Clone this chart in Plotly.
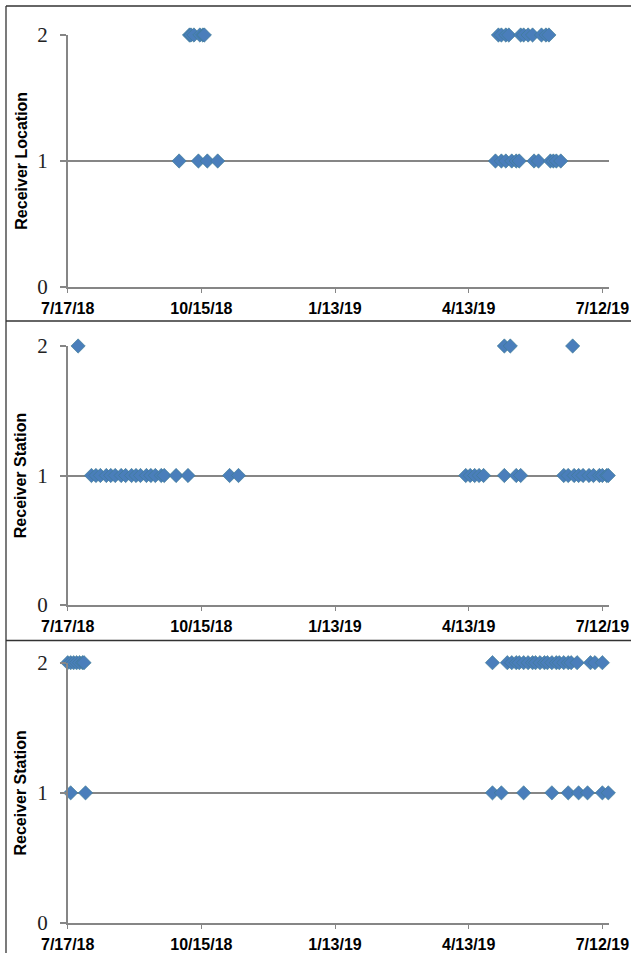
import plotly.graph_objects as go

# ---------------- data ----------------
tick_dates = ["2018-07-17", "2018-10-15", "2019-01-13", "2019-04-13", "2019-07-12"]
tick_labels = ["7/17/18", "10/15/18", "1/13/19", "4/13/19", "7/12/19"]
y_ticks = [0, 1, 2]
y_tick_labels = ["0", "1", "2"]

p1_dates = ["2018-10-07", "2018-10-08", "2018-10-10", "2018-10-14", "2018-10-16", "2018-10-17",
            "2019-05-03", "2019-05-05", "2019-05-08", "2019-05-10", "2019-05-18", "2019-05-20",
            "2019-05-23", "2019-05-26", "2019-06-01", "2019-06-04", "2019-06-06",
            "2018-09-30", "2018-10-13", "2018-10-19", "2018-10-26",
            "2019-05-01", "2019-05-05", "2019-05-08", "2019-05-12", "2019-05-15", "2019-05-17",
            "2019-05-27", "2019-05-30", "2019-06-07", "2019-06-09", "2019-06-11", "2019-06-14"]
p1_values = [2, 2, 2, 2, 2, 2,
             2, 2, 2, 2, 2, 2,
             2, 2, 2, 2, 2,
             1, 1, 1, 1,
             1, 1, 1, 1, 1, 1,
             1, 1, 1, 1, 1, 1]

p2_dates = ["2018-07-24", "2019-05-07", "2019-05-11", "2019-06-22",
            "2018-08-02", "2018-08-05", "2018-08-08", "2018-08-12", "2018-08-15", "2018-08-18",
            "2018-08-22", "2018-08-25", "2018-08-29", "2018-09-01", "2018-09-04", "2018-09-08",
            "2018-09-11", "2018-09-14", "2018-09-18", "2018-09-20", "2018-09-28", "2018-10-06",
            "2018-11-03", "2018-11-09",
            "2019-04-11", "2019-04-14", "2019-04-17", "2019-04-20", "2019-04-23",
            "2019-05-07", "2019-05-15", "2019-05-18",
            "2019-06-16", "2019-06-19", "2019-06-23", "2019-06-26", "2019-06-29", "2019-07-03",
            "2019-07-06", "2019-07-10", "2019-07-12", "2019-07-15", "2019-07-16"]
p2_values = [2, 2, 2, 2,
             1, 1, 1, 1, 1, 1,
             1, 1, 1, 1, 1, 1,
             1, 1, 1, 1, 1, 1,
             1, 1,
             1, 1, 1, 1, 1,
             1, 1, 1,
             1, 1, 1, 1, 1, 1,
             1, 1, 1, 1, 1]

p3_dates = ["2018-07-17", "2018-07-19", "2018-07-21", "2018-07-23", "2018-07-25", "2018-07-27", "2018-07-28",
            "2019-04-29", "2019-05-09", "2019-05-12", "2019-05-15", "2019-05-17", "2019-05-20",
            "2019-05-23", "2019-05-26", "2019-05-28", "2019-05-31", "2019-06-03", "2019-06-05",
            "2019-06-08", "2019-06-11", "2019-06-13", "2019-06-16", "2019-06-19", "2019-06-21",
            "2019-06-25", "2019-07-04", "2019-07-07", "2019-07-12",
            "2018-07-19", "2018-07-29",
            "2019-04-29", "2019-05-05", "2019-05-20", "2019-06-08", "2019-06-19", "2019-06-26",
            "2019-07-02", "2019-07-12", "2019-07-16"]
p3_values = [2, 2, 2, 2, 2, 2, 2,
             2, 2, 2, 2, 2, 2,
             2, 2, 2, 2, 2, 2,
             2, 2, 2, 2, 2, 2,
             2, 2, 2, 2,
             1, 1,
             1, 1, 1, 1, 1, 1,
             1, 1, 1]

panel_titles = ["Receiver Location", "Receiver Station", "Receiver Station"]

# ---------------- layout ----------------
W, H = 631, 953
def px_x(v):
    return v / W
def px_y(v):
    return 1 - v / H

x_range = ["2018-07-17", "2019-07-16 16:00"]
x_dom = [px_x(67.7), px_x(609.3)]
# pixel rows: (top of y=2, y=0)
rows = [(35, 287), (346, 605), (662.7, 923)]

blue = "#4A7EBB"
gray = "#868686"

fig = go.Figure()
series = [(p1_dates, p1_values), (p2_dates, p2_values), (p3_dates, p3_values)]

for i, ((d, v), (top, bot)) in enumerate(zip(series, rows), start=1):
    sfx = "" if i == 1 else str(i)
    fig.add_trace(go.Scatter(
        x=d, y=v, mode="markers",
        xaxis="x" + sfx, yaxis="y" + sfx,
        marker=dict(symbol="diamond", size=11, color=blue,
                    line=dict(color="#3E7C8E", width=0.6)),
        cliponaxis=False, showlegend=False, hoverinfo="skip",
    ))
    fig.layout["xaxis" + sfx] = dict(
        domain=x_dom, anchor="y" + sfx, type="date", range=x_range,
        tickvals=tick_dates, ticktext=tick_labels, automargin=False,
        showgrid=False, zeroline=False,
        showline=True, linecolor=gray, linewidth=1.5,
        ticks="outside", ticklen=4, tickwidth=1.2, tickcolor=gray,
        tickfont=dict(family="Liberation Sans, Arial", size=16, color="#000000", weight="bold"),
        ticklabelstandoff=2,
    )
    fig.layout["yaxis" + sfx] = dict(
        domain=[px_y(bot), px_y(top)], anchor="x" + sfx, range=[0, 2],
        tickvals=y_ticks, ticktext=y_tick_labels, automargin=False,
        showgrid=True, gridcolor=gray, gridwidth=1.5, zeroline=False,
        showline=True, linecolor=gray, linewidth=1.5,
        ticks="outside", ticklen=6, tickwidth=1.5, tickcolor=gray,
        tickfont=dict(family="Liberation Serif, DejaVu Serif", size=21, color="#222222"),
        ticklabelstandoff=8,
    )
    fig.add_annotation(
        text=panel_titles[i - 1], textangle=-90,
        x=px_x(20.7), y=px_y((top + bot) / 2), xref="paper", yref="paper",
        xanchor="center", yanchor="middle", showarrow=False,
        font=dict(family="Liberation Sans, Arial", size=16, color="#000000", weight="bold"),
    )

# panel borders
border = dict(color="#333333", width=1.3)
shapes = []
for yy in [6, 321, 640.5]:
    shapes.append(dict(type="line", xref="paper", yref="paper",
                       x0=px_x(6), x1=1, y0=px_y(yy), y1=px_y(yy), line=border))
shapes.append(dict(type="line", xref="paper", yref="paper",
                   x0=px_x(6), x1=px_x(6), y0=px_y(6), y1=0, line=border))

fig.update_layout(
    width=W, height=H, margin=dict(l=0, r=0, t=0, b=0, autoexpand=False),
    paper_bgcolor="white", plot_bgcolor="white",
    shapes=shapes,
)

# place the figure at the page's top-left corner (no default body margin)
fig.write_html("out.html",
               config={"displayModeBar": False},
               post_script="document.body.style.margin='0';document.body.style.overflow='hidden';")
